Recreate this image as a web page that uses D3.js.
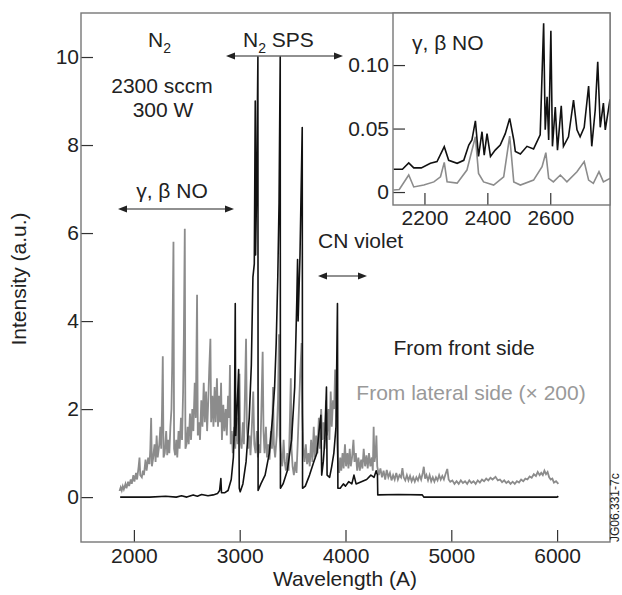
<!DOCTYPE html>
<html>
<head>
<meta charset="utf-8">
<script src="https://cdn.jsdelivr.net/npm/d3@7"></script>
<style>
  body { margin: 0; background: #fff; }
  svg text { font-family: "Liberation Sans", Arial, sans-serif; fill: #222; }
</style>
</head>
<body>
<div id="grafico"></div>
<script>
// espectro frontal (preto) : [comprimento de onda, intensidade]
var frente = [
  [1870,0],[2000,0],[2150,0],[2300,0.02],[2400,0],[2450,0.03],[2500,0],[2560,0.05],[2600,0.02],
  [2640,0.06],[2700,0.03],[2750,0.05],[2790,0.08],[2810,0.15],[2822,0.42],[2828,0.1],[2860,0.1],
  [2890,0.15],[2920,0.4],[2940,0.9],[2950,1.6],[2958,4.4],[2962,1.4],[2975,2.0],[2990,2.9],
  [2996,0.2],[3005,0.12],[3030,0.3],[3060,0.8],[3090,1.8],[3110,3.0],[3125,5.0],[3138,5.3],
  [3147,9.0],[3150,5.5],[3160,7.0],[3172,10.0],[3174,0.15],[3200,0.3],[3240,0.5],[3280,1.0],
  [3310,1.8],[3330,2.5],[3345,3.5],[3360,5.0],[3372,6.7],[3383,10.0],[3385,0.2],[3410,0.3],
  [3450,0.6],[3490,1.3],[3520,2.5],[3540,4.5],[3547,5.4],[3552,4.0],[3570,5.5],[3591,8.4],
  [3594,0.2],[3620,0.25],[3660,0.5],[3700,0.8],[3730,1.0],[3750,1.5],[3767,1.86],[3775,0.5],
  [3790,0.8],[3805,1.3],[3820,2.5],[3826,0.5],[3850,0.45],[3870,0.7],[3890,1.0],[3910,1.6],
  [3924,4.4],[3928,0.2],[3950,0.2],[3980,0.3],[4000,0.25],[4030,0.35],[4060,0.3],[4080,0.5],
  [4100,0.3],[4150,0.35],[4200,0.4],[4240,0.5],[4270,0.45],[4290,0.6],[4302,0.5],[4305,0.05],
  [4500,0.06],[4726,0.05],[4740,0],[6000,0],[6012,0.02]
];

// espectro lateral (cinza, x 200)
var lateral = [
  [1864,0.14],[1875,0.22],[1885,0.15],[1895,0.25],[1905,0.18],[1920,0.3],[1930,0.2],[1945,0.35],
  [1955,0.25],[1970,0.4],[1980,0.3],[1995,0.5],[2005,0.35],[2020,0.55],[2030,0.4],[2045,0.7],
  [2053,0.9],[2060,0.5],[2075,0.45],[2085,0.6],[2095,0.5],[2110,0.85],[2120,0.6],[2135,0.9],
  [2148,0.75],[2155,1.1],[2163,1.8],[2170,0.7],[2180,0.85],[2195,1.2],[2205,0.8],[2215,1.4],
  [2225,0.9],[2240,1.2],[2250,1.6],[2258,1.1],[2266,2.0],[2273,3.2],[2280,0.9],[2292,1.0],
  [2305,1.5],[2315,0.95],[2325,1.3],[2335,1.0],[2345,1.6],[2355,2.0],[2362,3.0],[2374,5.8],
  [2380,1.1],[2390,0.95],[2400,1.3],[2410,0.9],[2422,1.5],[2432,1.1],[2445,1.8],[2455,1.3],
  [2465,2.4],[2472,3.6],[2481,6.1],[2487,1.1],[2497,1.2],[2508,1.6],[2518,1.2],[2530,1.9],
  [2540,1.3],[2552,2.0],[2562,1.5],[2575,2.6],[2585,1.8],[2597,4.6],[2604,1.4],[2615,1.7],
  [2625,1.3],[2637,2.2],[2648,1.6],[2660,2.6],[2670,1.7],[2682,2.4],[2692,1.5],[2703,2.2],
  [2712,2.9],[2723,3.6],[2730,1.7],[2742,2.3],[2752,1.6],[2763,2.5],[2773,1.7],[2785,2.7],
  [2795,1.6],[2805,2.3],[2815,1.7],[2824,2.6],[2832,1.3],[2845,2.1],[2855,1.5],[2868,2.0],
  [2878,1.4],[2890,2.3],[2900,1.8],[2908,3.0],[2915,1.2],[2925,1.5],[2935,1.0],[2948,1.6],
  [2958,1.1],[2970,1.8],[2980,1.2],[2990,2.2],[2998,2.8],[3005,1.3],[3018,1.1],[3030,1.7],
  [3040,1.2],[3050,2.4],[3060,3.6],[3068,1.6],[3080,1.1],[3092,1.4],[3102,0.95],[3115,1.6],
  [3128,2.4],[3138,1.2],[3150,1.0],[3162,1.5],[3172,0.9],[3185,1.2],[3195,1.0],[3205,2.0],
  [3217,3.3],[3225,1.5],[3235,1.0],[3248,1.6],[3258,0.9],[3270,1.2],[3282,0.85],[3295,1.5],
  [3305,1.1],[3315,2.5],[3323,1.2],[3335,0.9],[3350,1.4],[3362,2.2],[3371,3.7],[3378,1.4],
  [3390,1.0],[3402,0.7],[3415,1.3],[3425,0.8],[3437,0.6],[3450,1.0],[3462,0.6],[3475,1.8],
  [3483,2.7],[3490,1.1],[3500,0.7],[3512,0.5],[3525,0.8],[3537,0.55],[3548,1.2],[3560,2.0],
  [3572,2.8],[3585,3.5],[3592,1.9],[3602,1.1],[3613,0.8],[3625,1.2],[3637,0.75],[3650,1.0],
  [3662,0.7],[3675,1.3],[3687,0.8],[3700,1.6],[3710,0.9],[3722,1.4],[3735,1.0],[3748,1.8],
  [3758,1.1],[3770,2.0],[3780,1.3],[3792,1.7],[3802,1.1],[3815,2.2],[3825,1.4],[3838,2.0],
  [3848,1.3],[3860,2.4],[3870,1.6],[3882,2.2],[3893,2.0],[3902,2.9],[3912,2.3],[3922,1.2],
  [3930,0.7],[3940,0.55],[3950,0.9],[3960,0.6],[3972,1.0],[3982,0.65],[3995,1.2],[4005,0.7],
  [4018,1.0],[4028,0.65],[4040,1.1],[4050,0.7],[4062,0.9],[4075,1.3],[4085,0.8],[4098,1.0],
  [4110,0.6],[4122,0.9],[4135,0.6],[4148,0.85],[4160,0.65],[4172,1.1],[4185,0.7],[4198,0.95],
  [4210,0.65],[4222,1.0],[4235,0.7],[4248,0.9],[4258,0.6],[4266,1.6],[4274,0.8],[4285,1.0],
  [4292,1.4],[4300,0.7],[4315,0.5],[4330,0.65],[4345,0.45],[4360,0.6],[4375,0.4],[4390,0.62],
  [4405,0.45],[4420,0.55],[4435,0.38],[4450,0.5],[4465,0.4],[4480,0.55],[4495,0.4],[4510,0.5],
  [4525,0.45],[4538,0.66],[4550,0.45],[4565,0.38],[4580,0.5],[4595,0.38],[4610,0.48],[4625,0.36],
  [4640,0.45],[4655,0.35],[4670,0.45],[4685,0.38],[4700,0.5],[4715,0.4],[4730,0.55],[4740,0.69],
  [4752,0.42],[4765,0.5],[4780,0.38],[4795,0.5],[4810,0.36],[4825,0.45],[4840,0.35],[4855,0.45],
  [4870,0.38],[4885,0.5],[4900,0.4],[4915,0.48],[4930,0.4],[4945,0.52],[4962,0.64],[4975,0.4],
  [4990,0.35],[5010,0.38],[5030,0.3],[5050,0.36],[5070,0.3],[5090,0.38],[5110,0.32],[5130,0.36],
  [5150,0.3],[5170,0.38],[5190,0.32],[5210,0.36],[5230,0.3],[5250,0.38],[5270,0.33],[5290,0.4],
  [5310,0.36],[5330,0.42],[5350,0.38],[5370,0.44],[5390,0.4],[5418,0.46],[5440,0.38],[5460,0.4],
  [5480,0.34],[5500,0.38],[5520,0.32],[5540,0.36],[5560,0.3],[5580,0.35],[5600,0.3],[5620,0.36],
  [5640,0.33],[5660,0.4],[5680,0.36],[5700,0.42],[5720,0.4],[5740,0.47],[5760,0.44],[5780,0.52],
  [5800,0.48],[5817,0.57],[5835,0.5],[5850,0.55],[5865,0.5],[5880,0.6],[5895,0.52],[5910,0.57],
  [5925,0.45],[5940,0.4],[5955,0.42],[5970,0.33],[5990,0.36],[6012,0.3]
];

// detalhe (inset) 2100-2790
var detalhe_frente = [
  [2102,0.018],[2130,0.018],[2150,0.023],[2166,0.019],[2190,0.019],[2219,0.0226],[2240,0.024],
  [2263,0.0357],[2277,0.025],[2304,0.0226],[2325,0.025],[2341,0.037],[2351,0.041],[2362,0.056],
  [2372,0.028],[2383,0.0475],[2390,0.029],[2399,0.046],[2410,0.028],[2425,0.033],[2441,0.037],
  [2457,0.046],[2471,0.058],[2484,0.041],[2489,0.032],[2505,0.030],[2526,0.036],[2547,0.034],
  [2568,0.045],[2579,0.133],[2584,0.049],[2590,0.075],[2595,0.041],[2602,0.127],[2607,0.036],
  [2616,0.067],[2623,0.033],[2635,0.068],[2642,0.036],[2658,0.0435],[2674,0.0724],[2685,0.049],
  [2695,0.0435],[2708,0.051],[2722,0.0835],[2732,0.036],[2743,0.0646],[2751,0.1026],[2759,0.051],
  [2769,0.070],[2775,0.049],[2790,0.073]
];
var detalhe_lateral = [
  [2102,0.0016],[2120,0.002],[2150,0.0134],[2166,0.004],[2198,0.0055],[2230,0.008],[2251,0.012],
  [2263,0.0234],[2272,0.008],[2304,0.007],[2335,0.0173],[2362,0.0435],[2372,0.0147],[2388,0.008],
  [2420,0.0055],[2452,0.012],[2471,0.044],[2484,0.008],[2505,0.0055],[2547,0.0094],[2574,0.02],
  [2586,0.031],[2595,0.0108],[2610,0.008],[2632,0.0134],[2653,0.008],[2685,0.016],[2708,0.024],
  [2722,0.0094],[2737,0.0068],[2755,0.016],[2769,0.008],[2790,0.0108]
];

var ticks_x = [2000, 3000, 4000, 5000, 6000];
var ticks_y = [0, 2, 4, 6, 8, 10];
var ticks_x_detalhe = [2200, 2400, 2600];
var ticks_y_detalhe = [0, 0.05, 0.10];

var cor_frame = '#777';
var cor_cinza = '#8c8c8c';

var svg = d3.select("#grafico")
            .append("svg")
            .attr("width", 622)
            .attr("height", 595);

var m = {left: 81, top: 13, right: 610, bottom: 542};

var x = d3.scaleLinear().domain([1500, 6500]).range([m.left, m.right]);
var y = d3.scaleLinear().domain([-1.02, 11]).range([m.bottom, m.top]);

svg.append("defs").append("clipPath").attr("id", "clip")
   .append("rect").attr("x", m.left).attr("y", m.top)
   .attr("width", m.right - m.left).attr("height", m.bottom - m.top);

var linha = d3.line().x(function(d){ return x(d[0]); }).y(function(d){ return y(d[1]); });

svg.append("path").datum(lateral)
   .attr("d", linha).attr("fill", "none")
   .attr("stroke", cor_cinza).attr("stroke-width", 1.8)
   .attr("clip-path", "url(#clip)");

svg.append("path").datum(frente)
   .attr("d", linha).attr("fill", "none")
   .attr("stroke", "#111").attr("stroke-width", 1.6)
   .attr("stroke-linejoin", "round")
   .attr("clip-path", "url(#clip)");

// eixos
var eixo_x = svg.append("g")
   .attr("transform", "translate(0," + m.bottom + ")")
   .call(d3.axisBottom(x).tickValues(ticks_x).tickFormat(d3.format("d"))
         .tickSizeInner(-12).tickSizeOuter(0).tickPadding(6));
var eixo_y = svg.append("g")
   .attr("transform", "translate(" + m.left + ",0)")
   .call(d3.axisLeft(y).tickValues(ticks_y).tickSizeInner(-12).tickSizeOuter(0).tickPadding(2));

[eixo_x, eixo_y].forEach(function(g){
  g.select(".domain").remove();
  g.selectAll(".tick line").attr("stroke", "#333").attr("stroke-width", 1.2);
  g.selectAll(".tick text").style("font-size", "21px").attr("fill", "#222");
});

svg.append("rect")
   .attr("x", m.left).attr("y", m.top)
   .attr("width", m.right - m.left).attr("height", m.bottom - m.top)
   .attr("fill", "none").attr("stroke", cor_frame).attr("stroke-width", 1.4);

// inset
var d = {left: 393, top: 13, right: 610, bottom: 205};
var xd = d3.scaleLinear().domain([2100, 2790]).range([d.left, d.right]);
var yd = d3.scaleLinear().domain([-0.0102, 0.141]).range([d.bottom, d.top]);

svg.append("rect")
   .attr("x", d.left).attr("y", d.top)
   .attr("width", d.right - d.left).attr("height", d.bottom - d.top)
   .attr("fill", "#fff");

svg.select("defs").append("clipPath").attr("id", "clip2")
   .append("rect").attr("x", d.left).attr("y", d.top)
   .attr("width", d.right - d.left).attr("height", d.bottom - d.top);

var linha_d = d3.line().x(function(p){ return xd(p[0]); }).y(function(p){ return yd(p[1]); });

svg.append("path").datum(detalhe_lateral)
   .attr("d", linha_d).attr("fill", "none")
   .attr("stroke", cor_cinza).attr("stroke-width", 1.6)
   .attr("clip-path", "url(#clip2)");
svg.append("path").datum(detalhe_frente)
   .attr("d", linha_d).attr("fill", "none")
   .attr("stroke", "#111").attr("stroke-width", 1.6)
   .attr("clip-path", "url(#clip2)");

var eixo_xd = svg.append("g")
   .attr("transform", "translate(0," + d.bottom + ")")
   .call(d3.axisBottom(xd).tickValues(ticks_x_detalhe).tickFormat(d3.format("d"))
         .tickSizeInner(-12).tickSizeOuter(0).tickPadding(5));
var eixo_yd = svg.append("g")
   .attr("transform", "translate(" + d.left + ",0)")
   .call(d3.axisLeft(yd).tickValues(ticks_y_detalhe).tickSizeInner(-12).tickSizeOuter(0).tickPadding(4)
         .tickFormat(function(v){ return v === 0 ? "0" : d3.format(".2f")(v); }));

[eixo_xd, eixo_yd].forEach(function(g){
  g.select(".domain").remove();
  g.selectAll(".tick line").attr("stroke", "#333").attr("stroke-width", 1.2);
  g.selectAll(".tick text").style("font-size", "21px").attr("fill", "#222");
});

svg.append("rect")
   .attr("x", d.left).attr("y", d.top)
   .attr("width", d.right - d.left).attr("height", d.bottom - d.top)
   .attr("fill", "none").attr("stroke", cor_frame).attr("stroke-width", 1.4);

// textos
function texto(xp, yp, s, anchor, cor){
  return svg.append("text").attr("x", xp).attr("y", yp)
            .attr("text-anchor", anchor || "start")
            .style("font-size", "21px")
            .style("fill", cor || "#222")
            .text(s);
}

function n2(xp, yp, resto){
  var t = svg.append("text").attr("x", xp).attr("y", yp).style("font-size", "21px");
  t.append("tspan").text("N");
  t.append("tspan").attr("dy", 6).style("font-size", "14px").text("2");
  if (resto) t.append("tspan").attr("dy", -6).text(" " + resto);
  return t;
}

n2(148, 47);
n2(243, 47, "SPS");
texto(162, 93, "2300 sccm", "middle");
texto(163, 117, "300 W", "middle");
texto(172, 198, "γ, β NO", "middle");
texto(318, 248, "CN violet");
texto(464, 355, "From front side", "middle");
texto(471, 400, "From lateral side (× 200)", "middle", "#999");
texto(412, 50, "γ, β NO");

svg.append("text")
   .attr("transform", "translate(26,279) rotate(-90)")
   .attr("text-anchor", "middle")
   .style("font-size", "21px")
   .text("Intensity (a.u.)");

svg.append("text")
   .attr("x", 345).attr("y", 586)
   .attr("text-anchor", "middle")
   .style("font-size", "21px")
   .text("Wavelength (A)");

svg.append("text")
   .attr("transform", "translate(619,542) rotate(-90)")
   .style("font-size", "12px")
   .text("JG06.331-7c");

// setas
function seta(x1, x2, yp){
  var g = svg.append("g");
  g.append("line").attr("x1", x1 + 4).attr("x2", x2 - 4).attr("y1", yp).attr("y2", yp)
   .attr("stroke", "#222").attr("stroke-width", 1.2);
  g.append("path").attr("d", "M" + x1 + "," + yp + "l9,-3.5v7z").attr("fill", "#222");
  g.append("path").attr("d", "M" + x2 + "," + yp + "l-9,-3.5v7z").attr("fill", "#222");
}

seta(226, 343, 56);
seta(118, 234, 209);
seta(318, 367, 276);
</script>
</body>
</html>
